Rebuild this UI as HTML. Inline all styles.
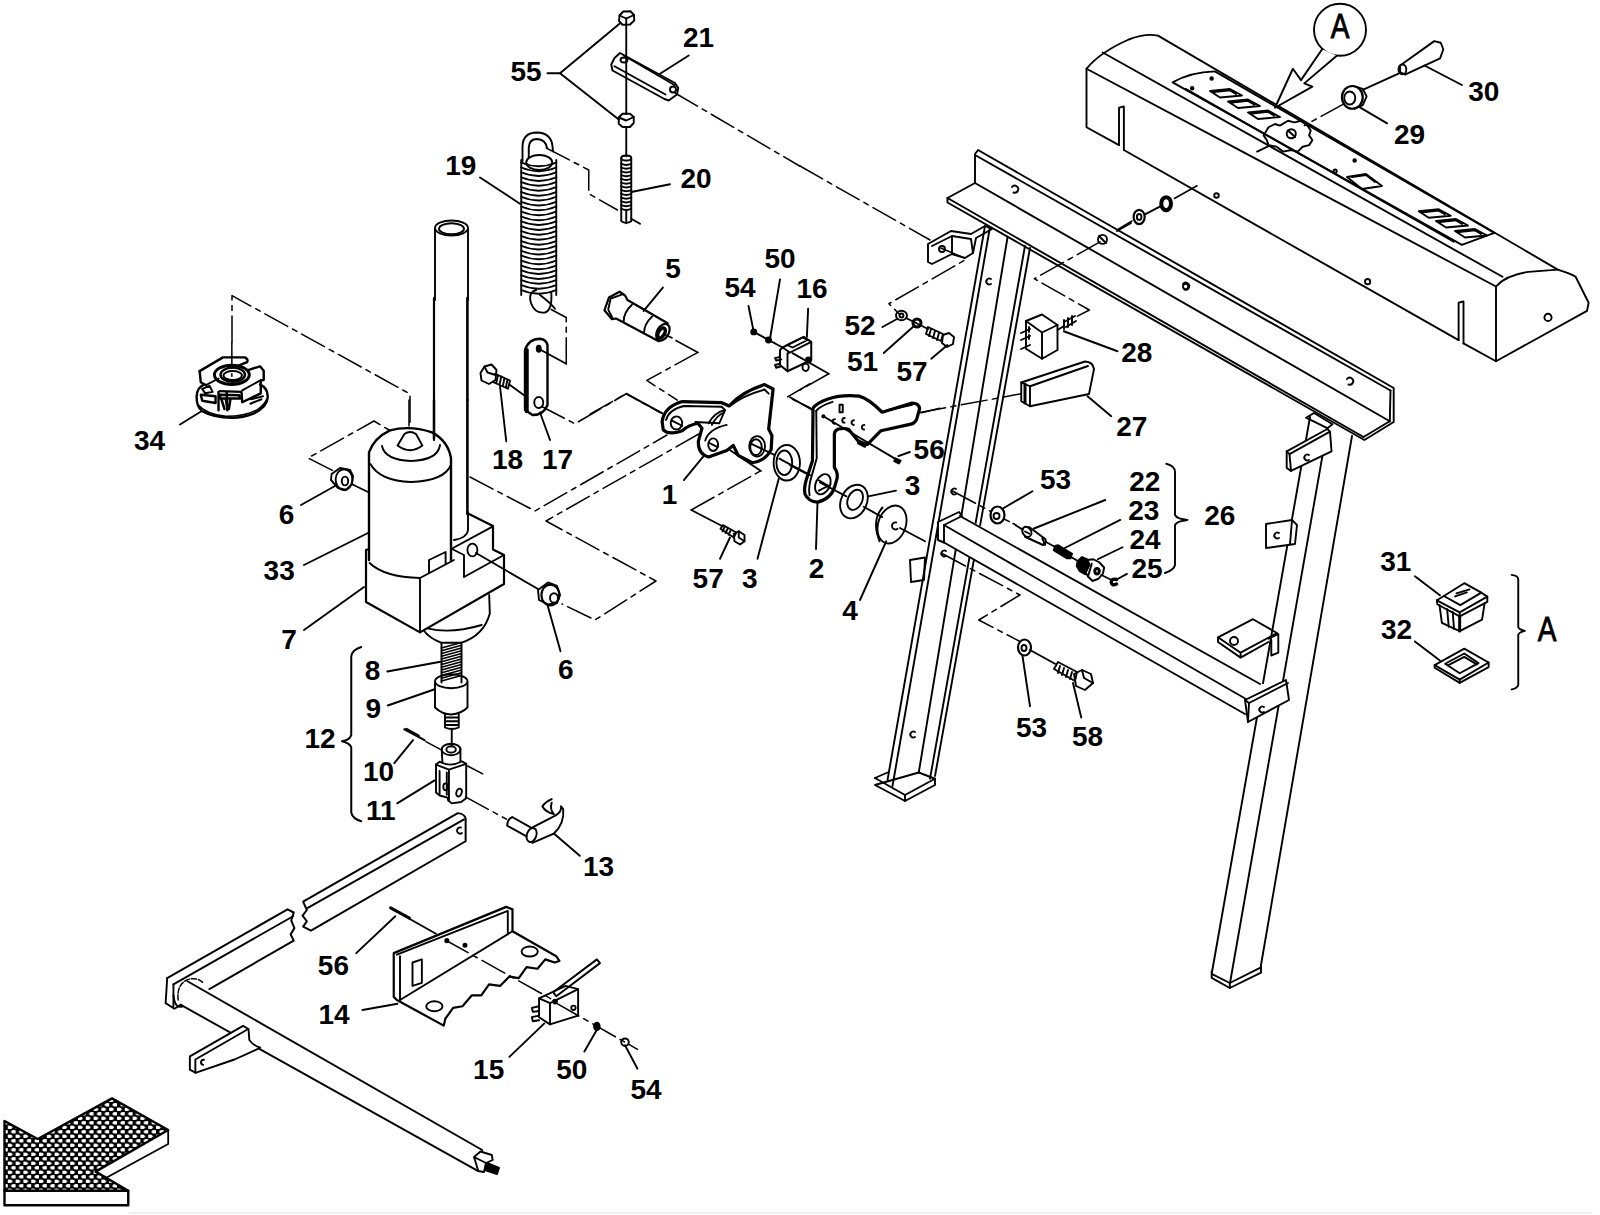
<!DOCTYPE html>
<html><head><meta charset="utf-8"><style>
html,body{margin:0;padding:0;background:#fff;width:1600px;height:1215px;overflow:hidden}
svg{display:block;position:absolute;left:0;top:0}
text{font-family:"Liberation Sans",sans-serif;font-weight:bold;font-size:28px;fill:#000}
.s [stroke-dasharray]{stroke-width:1.5px}
.s path,.s line,.s polyline,.s polygon,.s circle,.s ellipse,.s rect{vector-effect:non-scaling-stroke}
</style></head><body>
<svg width="1600" height="1215" viewBox="0 0 1600 1215">
<g class="s" fill="none" stroke="#000" stroke-width="1.9" stroke-linejoin="round" stroke-linecap="round">
<defs>
<pattern id="mesh" x="0" y="0" width="7.8" height="9" patternUnits="userSpaceOnUse">
<rect width="7.8" height="9" fill="#000"/>
<ellipse cx="1.95" cy="2.25" rx="2.6" ry="1.85" fill="#fff" stroke="none"/>
<ellipse cx="5.85" cy="6.75" rx="2.6" ry="1.85" fill="#fff" stroke="none"/>
</pattern>
</defs>
<!-- arrow -->
<path d="M4.5,1121 L37.7,1139 L112,1098.4 L168.2,1130 L95.6,1171.6 L128.25,1190.7 L4.5,1190.7 Z" fill="url(#mesh)" stroke-width="2.4"/>
<path d="M4.5,1190.7 L4.5,1205.3 L128.25,1205.3 L128.25,1190.7" stroke-width="2.4"/>
<path d="M168.2,1130 L168.2,1144 L106.3,1177.75" stroke-width="1.8"/>
<line x1="130" y1="1213" x2="1592" y2="1213" stroke="#f3dcf0" stroke-width="1.5" stroke-dasharray="2,2"/>
<!-- bottom assembly -->
<g transform="translate(150,800) scale(0.3125)">
<path d="M490,325 L985,42 Q1008,45 1010,60 L1010,132 L515,418 L490,405 L502,388 L488,370 L502,352 Z" stroke-width="2"/>
<line x1="505" y1="345" x2="1005" y2="62"/>
<path d="M995,88 a10,10 0 1 0 3,18"/>
<path d="M55,570 L440,350 L460,360 L452,385 L462,410 L450,430 L460,450 L190,605" stroke-width="2"/>
<line x1="75" y1="590" x2="458" y2="372"/>
<path d="M55,570 L50,650 L78,668 L100,655 M75,590 L75,660"/>
<path d="M90,640 Q85,590 120,575 Q150,565 170,585" stroke-dasharray="5,2"/><path d="M75,625 Q80,670 105,660"/>
<path d="M120,580 L1063,1120"/>
<path d="M97.6,655 L1049,1187"/>


<!-- 14 -->
<path d="M780,490 L1140,342 L1160,350 L1160,420 L1300,500 L1310,515 L1295,520 L1265,510 L1240,540 L1205,535 L1180,570 L1150,565 L1120,595 L1085,590 L1060,625 L1030,625 L1000,660 L970,665 L945,700 L940,722 L790,640 L780,630 Z" stroke-width="2.2"/>
<path d="M790,495 L1145,355 L1145,430 M800,640 L1160,420"/>
<line x1="800" y1="500" x2="800" y2="640"/>
<path d="M840,520 L870,510 L870,585 L840,595 Z"/>
<ellipse cx="910" cy="660" rx="26" ry="16"/><ellipse cx="1215" cy="485" rx="26" ry="16"/>
<line x1="680" y1="672" x2="792" y2="652"/>
<path d="M770,345 L830,378" stroke-width="3"/><line x1="830" y1="380" x2="915" y2="428"/>
<polyline points="945,448 1290,640" stroke-dasharray="26,5.5,5,5.5"/>
<circle cx="950" cy="450" r="5" fill="#000"/><circle cx="1008" cy="465" r="5" fill="#000"/>
<line x1="660" y1="490" x2="785" y2="372"/>
<!-- 15 -->
<path d="M1245,635 L1330,595 L1370,605 L1370,690 L1280,718 L1245,695 Z"/>
<path d="M1245,635 L1280,650 L1370,605 M1280,650 L1280,718"/>
<path d="M1290,615 L1430,510 L1440,522 L1300,628 Z"/>
<path d="M1245,660 L1222,665 L1225,678 L1245,675 M1245,690 L1222,695 L1225,708 L1245,705"/>
<circle cx="1296" cy="645" r="6" fill="#000"/><circle cx="1355" cy="665" r="7"/>
<line x1="1300" y1="650" x2="1560" y2="798" stroke-dasharray="26,5.5,5,5.5"/>
<ellipse cx="1430" cy="725" rx="9" ry="12" fill="#000"/><ellipse cx="1520" cy="775" rx="12" ry="12"/>
<line x1="1150" y1="822" x2="1262" y2="715"/><line x1="1390" y1="805" x2="1430" y2="735"/><line x1="1560" y1="860" x2="1520" y2="785"/>
</g>
<!-- shaft end -->
<path d="M474,1157 L480.5,1151.5 L491.8,1155 L492.7,1160 L486,1163 Z M474,1157 L478,1170 M486,1163 L484,1172 L478,1171"/>
<path d="M487,1163 L499,1168 L497,1174 L485,1170 Z" fill="#000"/>
<g transform="translate(150,900) scale(0.15637)">
<path d="M255,1000 L595,805 L630,825 L635,895 Q660,930 705,945 Q620,985 540,1020 L290,1105 L255,1085 Z" fill="#fff"/>
<path d="M290,1020 L620,830 M290,1020 L290,1105"/>
<path d="M345,1022 a16,16 0 1 0 -5,32"/>
</g>

<g transform="translate(1080,20) scale(0.325)">
<path d="M120,385 L20,330 L20,150 Q60,100 150,60 Q200,40 240,48 L1470,768 Q1510,780 1525,790 L1565,870 L1560,895 L1280,1050 L1180,995"/>
<line x1="135" y1="400" x2="1165" y2="985"/>
<path d="M120,385 L120,270 L135,266 L135,400"/><path d="M1165,985 L1165,870 L1180,866 L1180,995"/>
<line x1="20" y1="150" x2="1280" y2="820"/>
<line x1="70" y1="100" x2="1300" y2="790"/>
<path d="M1280,1050 L1280,820 Q1310,785 1380,775 L1470,768"/>
<path d="M285,192 Q340,160 415,158 L1275,655 L1175,692 Z"/>
<line x1="325" y1="212" x2="1150" y2="682"/>




<path d="M580,330 l20,-10 l15,5 l25,-15 l20,5 l20,-5 l20,15 l10,15 l-5,15 l10,15 l-10,15 l-20,5 l-15,15 l-20,-5 l-25,5 l-20,-15 l-25,-5 l-5,-15 l-10,-15 z"/>
<circle cx="650" cy="350" r="14"/><line x1="640" y1="340" x2="662" y2="360"/>
<line x1="545" y1="405" x2="580" y2="388"/>
<circle cx="420" cy="540" r="7"/><circle cx="325" cy="820" r="8"/><circle cx="885" cy="805" r="8"/><circle cx="1440" cy="915" r="11"/><circle cx="785" cy="465" r="5"/><circle cx="845" cy="432" r="4" fill="#000"/><circle cx="345" cy="210" r="4" fill="#000"/><circle cx="405" cy="180" r="4" fill="#000"/>
<!-- arrow A -->
<circle cx="800" cy="30" r="80"/>
<path d="M745,90 L680,185 L655,150 L600,270 L715,205 L690,195 L790,110" fill="#fff"/>
<!-- 29 30 -->
<path d="M985,140 L1090,65 L1110,70 L1118,90 L1108,118 L1000,168 L985,160 Z"/>
<ellipse cx="992" cy="152" rx="12" ry="15"/>
<line x1="1060" y1="140" x2="1175" y2="200"/>
<line x1="980" y1="165" x2="870" y2="215"/>
<ellipse cx="838" cy="238" rx="32" ry="35" stroke-width="2.2"/><ellipse cx="830" cy="240" rx="17" ry="20"/>
<path d="M848,205 L870,212 L882,235 L870,262 L845,272"/>
<line x1="860" y1="268" x2="945" y2="318"/>
<line x1="812" y1="258" x2="690" y2="325" stroke-dasharray="26,5.5,5,5.5"/>
<!-- washers bottom-left -->
<ellipse cx="182" cy="606" rx="17" ry="22" stroke-width="2.2"/><ellipse cx="182" cy="606" rx="7" ry="9"/>
<ellipse cx="265" cy="565" rx="15" ry="20" stroke-width="4"/>
<line x1="200" y1="598" x2="250" y2="572"/>
<polyline points="360,510 280,555" stroke-dasharray="26,5.5,5,5.5"/><polyline points="160,618 115,645" stroke-dasharray="26,5.5,5,5.5"/>
</g>
<!-- dashed hole -> 28 -->
<circle cx="1102.5" cy="239.4" r="4.5"/><line x1="1099" y1="236" x2="1106" y2="243"/>
<polyline points="1100,241.9 1034.4,278.75 1089.4,310 1073.75,318.1" stroke-dasharray="26,5.5,5,5.5"/>
<line x1="1131" y1="223" x2="1117" y2="231"/>
<path d="M1210,91 l20,-2 l12,6.5 l-22,2 z M1214,92 l16,-1.6 l6,3.5"/>
<path d="M1228,101.5 l20,-2 l12,6.5 l-22,2 z M1232,102.5 l16,-1.6 l6,3.5"/>
<path d="M1248,112.5 l20,-2 l12,6.5 l-22,2 z M1252,113.5 l16,-1.6 l6,3.5"/>
<path d="M1418.75,211.25 l20,-2 l12,6.5 l-22,2 z M1422.75,212.25 l16,-1.6 l6,3.5"/>
<path d="M1436,221 l20,-2 l12,6.5 l-22,2 z M1440,222 l16,-1.6 l6,3.5"/>
<path d="M1455,231 l20,-2 l12,6.5 l-22,2 z M1459,232 l16,-1.6 l6,3.5"/>
<path d="M1347,177 l19,-3 l16,12 l-20,3 z M1352,177 l14,-2 l9,7"/>

<polyline points="470,477 535,511 667,435" stroke-dasharray="26,5.5,5,5.5"/>
<polyline points="698.7,434 546,521 656,581 595,620 562,604" stroke-dasharray="26,5.5,5,5.5"/>
<line x1="434" y1="298" x2="434" y2="440" stroke-width="2.2"/>
<line x1="467.4" y1="298" x2="467.4" y2="400" stroke-width="2.6"/>
<line x1="800" y1="166" x2="930" y2="240" stroke-dasharray="26,5.5,5,5.5"/>
<line x1="817.5" y1="502.5" x2="816" y2="549"/>

<!-- angle iron -->
<g>
<path d="M975,154 L978,150 L1393.7,388 L1393.7,422 L1364.4,440 L947.5,202.5 L947.5,198 L975,183 Z"/>
<line x1="975" y1="155" x2="1390.5" y2="390.5"/>
<line x1="975" y1="183" x2="1389.8" y2="421.2"/>
<line x1="1390.5" y1="390.5" x2="1389.8" y2="421.2"/>
<line x1="947.5" y1="198" x2="1363.5" y2="437"/>
<line x1="1389.8" y1="421.2" x2="1363.5" y2="437"/>
<path d="M1012,187 a3.5,3.5 0 1 1 1.5,5.5"/><path d="M1183,284 a3.5,3.5 0 1 1 1.5,5.5"/><path d="M1347,379 a3.5,3.5 0 1 1 1.5,5.5"/>
</g>
<!-- left front leg -->
<g>
<line x1="985" y1="226" x2="887.5" y2="780"/><line x1="990" y1="227" x2="892.5" y2="786"/>
<line x1="1007.5" y1="237.5" x2="918.75" y2="772.5"/>
<line x1="1025" y1="246" x2="930" y2="778.75"/><line x1="1030" y1="248" x2="935" y2="776"/>
<path d="M875,778 L887.5,772.5 M918.75,772.5 L935,778.75 L935,785 L905,801 L875,785 Z"/>
<polyline points="875,778 905,795 935,778.75"/><line x1="905" y1="795" x2="905" y2="801"/>
<path d="M956,489 a3,3 0 1 0 0,5"/><path d="M946,551 a3,3 0 1 0 0,5"/><path d="M991,279 a3,3 0 1 0 0,5"/><path d="M915,732 a3,3 0 1 0 0,5"/>
<!-- top bracket -->
<path d="M928,244 L951,231 L971,234 L985,226 L992,229 L976,238 L973,253 L965,258 L952,254 L932,264 L928,262 Z"/>
<polyline points="932,246 952,236 952,253"/><polyline points="952,236 971,239 973,253"/>
<circle cx="942" cy="249" r="3"/>
<!-- small tab -->
<path d="M910,560 L925,557.5 L924,580 L911,582 Z"/>
</g>
<!-- right rear leg -->
<g>
<line x1="1310" y1="417" x2="1212" y2="972"/>
<line x1="1327.3" y1="428.2" x2="1230" y2="983"/>
<line x1="1352" y1="436" x2="1261" y2="965"/>
<path d="M1211.7,971.3 L1211.7,977.8 L1229.8,988 L1261,972.6 L1261,964.8"/>
<polyline points="1211.7,973.9 1229.8,983 1261,967.4"/><line x1="1229.8" y1="983" x2="1229.8" y2="988"/>
<path d="M1306,417.7 L1314,413 L1332.5,424.3 L1327.3,428.2 Z"/>
<path d="M1286.7,451.3 L1327.3,429 L1330,431.7 L1331.5,451.3 L1291,470.9 L1286.7,468 Z" fill="#fff"/><polyline points="1286.7,451.3 1289.5,454.1 1330,431.7"/><line x1="1289.5" y1="454.1" x2="1291" y2="470.9"/>
<path d="M1309,455 a3,3 0 1 0 0,5"/>
<path d="M1266,524 L1292,520 L1297,525 L1295,544 L1266,548 Z" fill="#fff"/><line x1="1292" y1="520" x2="1290" y2="544"/>
<path d="M1279,533 a3,3 0 1 0 0,5"/>
<path d="M1218,637.3 L1253,619.2 L1277,633 L1240.6,652.7 Z M1218,637.3 L1218,642 L1240.6,657.6 L1268.5,642 M1240.6,652.7 L1240.6,657.6 M1268.5,638.7 L1278.3,634 L1278.3,652.7 L1271.3,655.5 L1271.3,640"/>
<circle cx="1234" cy="641" r="4"/>

<path d="M1264,707 a3,3 0 1 0 0,5"/>
</g>
<!-- crossbar -->
<g>
<path d="M938,522 L959.5,512 L962,516 L1262,684 L1289,683 L1289,700 L1248,722 L1245,712 L944,542.5 L938,540 Z" fill="#fff" stroke="none"/>
<line x1="960" y1="516" x2="1260" y2="684"/>
<line x1="944" y1="525" x2="1246" y2="699"/>
<line x1="944" y1="542.5" x2="1245" y2="714"/>
<path d="M938,522 L959,512 L962,516 L944,525 L944,542.5 L938,540 Z"/>
</g>

<path d="M1245,700 L1286,680 L1289,700 L1248,722 Z" fill="#fff"/><line x1="1249" y1="703" x2="1248" y2="722"/><line x1="1245" y1="700" x2="1249" y2="703"/><line x1="1249" y1="703" x2="1288" y2="683"/><path d="M1264,707 a3,3 0 1 0 0,5"/>

<g transform="translate(590,280) scale(0.16467)">

<polyline points="655,440 345,610 530,730" stroke-dasharray="26,5.5,5,5.5"/>
<polyline points="0,815 220,690" stroke-dasharray="26,5.5,5,5.5"/><line x1="220" y1="690" x2="440" y2="810"/>
<path d="M438,860 Q450,770 560,738 L800,745 L845,765 Q920,680 1060,635 L1112,662 L1085,905 L1105,945 L1100,1030 Q1065,1100 985,1110 L900,1065 L870,1005 L830,1035 L720,1075 Q655,1055 658,980 L680,900 L655,870 Q600,880 560,915 Q480,945 445,910 Z" stroke-width="3.2"/>
<path d="M462,850 Q480,785 570,765 L800,770 L820,790 L785,870 L640,862 M700,975 Q720,905 830,880 M850,765 Q930,700 1060,665 L1085,690"/>
<path d="M720,870 Q760,800 820,790 M740,880 Q770,820 815,805"/>
<ellipse cx="525" cy="868" rx="35" ry="40"/><line x1="500" y1="855" x2="560" y2="885"/>
<ellipse cx="748" cy="1000" rx="30" ry="38"/><line x1="725" y1="990" x2="775" y2="1015"/>
<ellipse cx="1015" cy="1010" rx="48" ry="62"/><ellipse cx="1008" cy="1015" rx="35" ry="48"/>
<line x1="980" y1="995" x2="1120" y2="1062"/>
<line x1="570" y1="1215" x2="690" y2="1070"/>
<ellipse cx="1195" cy="1110" rx="80" ry="108"/><ellipse cx="1180" cy="1110" rx="48" ry="75"/>
<line x1="1150" y1="1085" x2="1336" y2="1185"/>


<polyline points="1336,630 1200,710 1336,775" stroke-dasharray="26,5.5,5,5.5"/>

</g>
<g transform="translate(590,280) scale(0.06875)">
<path d="M210,440 L275,255 L430,170 L510,225 L545,290 L1130,630 M210,440 L320,570 L380,560 L1000,890" stroke-width="2.2"/>
<path d="M300,270 L470,210 M300,270 L265,430 L330,560"/>
<path d="M610,360 Q490,470 490,600 M905,530 Q790,640 785,765"/>
<ellipse cx="1060" cy="760" rx="85" ry="130" transform="rotate(30 1060 760)" stroke-width="2.2"/>
<ellipse cx="1040" cy="770" rx="45" ry="80" transform="rotate(30 1040 770)" stroke-width="3.5"/>
<line x1="1060" y1="110" x2="780" y2="450"/>
<line x1="1100" y1="800" x2="1190" y2="840"/>
<polyline points="1250,880 1570,1055" stroke-dasharray="26,5.5,5,5.5"/>
</g>
<line x1="729.4" y1="449.8" x2="760.9" y2="471"/>

<!-- 18 / 17 / spring hook -->
<g transform="translate(400,300) scale(0.25)">
<polygon points="322,292 338,266 366,258 386,280 382,320 356,336 326,322"/>
<polyline points="338,266 350,290 382,300 M350,290 342,330"/>
<path d="M380,295 L440,322 L432,355 L372,328 M392,300 L385,333 M405,306 L398,339 M418,312 L411,345 M430,318 L423,351"/>
<line x1="440" y1="340" x2="495" y2="380"/>
<line x1="400" y1="345" x2="425" y2="565"/>
<path d="M500,440 L500,200 Q515,155 560,155 Q585,158 590,180 L590,420 Q575,460 530,460 Z" stroke-width="2.4"/>
<line x1="507" y1="200" x2="507" y2="445" stroke-width="4"/>
<ellipse cx="555" cy="195" rx="8" ry="12" fill="#000"/><ellipse cx="555" cy="410" rx="18" ry="22"/>
<line x1="560" y1="450" x2="600" y2="560"/>
<line x1="560" y1="198" x2="665" y2="255"/>
<polyline points="665,255 665,70 605,38" stroke-dasharray="26,5.5,5,5.5"/>
<path d="M545,-40 Q510,-30 525,15 Q540,55 580,50 Q610,40 605,-30"/><path d="M560,-20 Q600,10 620,35"/>
<polyline points="565,425 700,495 905,375 1040,450" stroke-dasharray="26,5.5,5,5.5"/>
<!-- bolt 57 lower -->
<path d="M1282,915 L1292,900 L1345,930 L1335,950 Z M1300,905 L1290,925 M1312,912 L1302,932 M1324,919 L1314,939"/>
<polygon points="1335,935 1355,925 1378,940 1378,965 1360,978 1338,965"/>
<polyline points="1355,925 1355,950 1378,965 M1355,950 1338,965"/>
<line x1="1280" y1="1035" x2="1320" y2="950"/>
<line x1="1165" y1="840" x2="1290" y2="905"/>
<polyline points="1165,840 1440,685" stroke-dasharray="26,5.5,5,5.5"/>
<line x1="1430" y1="1035" x2="1515" y2="715"/>
</g>
<!-- 34 -->
<g transform="translate(180,340) scale(0.074074)">
<path d="M225,760 Q230,640 330,600 M1080,600 Q1185,650 1185,770 Q1180,900 1000,990 Q850,1050 700,1050 Q450,1045 300,960 Q220,900 225,760" stroke-width="2.4"/>
<path d="M240,870 Q350,1000 620,1030 Q900,1030 1060,930 Q1150,860 1170,800" stroke-width="1.6"/>
<path d="M265,420 L580,235 L875,235 Q930,265 905,300 L790,345" stroke-width="2.4"/>
<path d="M265,420 L280,570 L350,610 M910,410 L1080,355 L1130,415 L1130,540 L1090,545 L1090,720 L840,840 L830,700 L540,690" stroke-width="2.4"/>
<path d="M840,680 L1085,545 M350,610 L520,520"/>
<ellipse cx="700" cy="470" rx="235" ry="130" stroke-width="3"/>
<ellipse cx="712" cy="468" rx="165" ry="95" stroke-width="2.4"/>
<ellipse cx="712" cy="480" rx="125" ry="60" stroke-width="2"/>
<path d="M520,700 L520,950 M630,700 L640,950 M280,740 L480,760 L480,850 L300,820 Z" stroke-width="2.4"/>
<path d="M540,740 L800,745 L810,790 L540,790 Z M560,800 L600,930 M620,800 L640,930 M680,800 L660,930" stroke-width="2.6"/>
<path d="M300,660 L400,620 L440,700 L340,720 Z M960,800 L1120,760 M950,860 L1100,800" stroke-width="2"/>
<line x1="700" y1="30" x2="700" y2="490" stroke-dasharray="26,5.5,5,5.5"/>
<line x1="0" y1="1140" x2="300" y2="955"/>
</g>
<polyline points="232,342 232,295.6 410,394 410,426" stroke-dasharray="26,5.5,5,5.5"/>
<!-- switch 16 -->
<g transform="translate(700,240) scale(0.125)">
<circle cx="430" cy="735" r="20" fill="#000"/><circle cx="548" cy="800" r="20" fill="#000"/>
<line x1="388" y1="528" x2="430" y2="735"/><line x1="640" y1="315" x2="560" y2="790"/><line x1="865" y1="550" x2="855" y2="775"/>
<line x1="430" y1="735" x2="660" y2="860"/>
<path d="M660,860 L830,775 L890,815 L890,960 L700,1050 L640,1000 L640,880 Z" stroke-width="2"/>
<path d="M660,860 L720,900 L890,815 M720,900 L700,905 L700,1050"/>
<path d="M695,840 L820,780 L860,800 L740,860 Z"/>
<path d="M640,935 L600,945 L610,965 L650,955 M640,990 L600,1000 L610,1022 L650,1010"/>
<ellipse cx="845" cy="1018" rx="25" ry="30"/><circle cx="868" cy="960" r="20" fill="#000"/>
<line x1="740" y1="905" x2="1030" y2="1070"/>
<polyline points="1030,1070 800,1200" stroke-dasharray="26,5.5,5,5.5"/>
</g>
<!-- brace 12 -->
<g transform="translate(0,600) scale(0.25)">
<path d="M1445,188 Q1410,198 1405,225 L1405,540 Q1400,560 1368,565 Q1400,572 1405,590 L1405,850 Q1410,875 1445,885" stroke-width="2"/>
</g>
<!-- part 2, washers 3 & 4, pin 56 -->
<g transform="translate(790,380) scale(0.1152)">
<path d="M200,245 Q230,200 330,165 Q450,125 600,140 Q680,160 800,280 L1060,200 Q1120,200 1125,250 L1100,340 Q1080,380 1040,385 L790,440 L670,560 L600,540 L510,430 Q480,415 420,425 Q385,440 385,470 L385,760 Q415,800 410,850 L390,920 Q360,1030 240,1060 Q160,1055 130,990 Q120,940 140,870 L195,700 Z" stroke-width="3.2"/>
<path d="M225,270 Q260,225 370,190 M228,275 L232,680 L175,880 Q160,950 170,1000 M820,270 L1060,215"/>
<rect x="430" y="215" width="28" height="65"/>
<circle cx="290" cy="315" r="10" fill="#000"/>
<path d="M390,340 a14,14 0 1 0 -2,40 M475,330 a14,14 0 1 0 -2,40 M555,350 a14,14 0 1 0 -2,40 M645,390 a14,14 0 1 0 -2,40"/>
<ellipse cx="285" cy="905" rx="62" ry="92" transform="rotate(25 285 905)"/><path d="M250,960 L330,920 M250,870 L335,920"/>
<line x1="290" y1="315" x2="940" y2="700"/>
<path d="M600,525 L660,555 L650,580 L590,550 Z" fill="#000"/><path d="M915,680 L960,700 L945,725 L905,705 Z" fill="#000"/>
<line x1="940" y1="660" x2="1040" y2="625"/>
<line x1="0" y1="150" x2="195" y2="260"/>
<line x1="0" y1="740" x2="140" y2="810"/>
<line x1="260" y1="890" x2="490" y2="1010"/>
<ellipse cx="555" cy="1055" rx="112" ry="152" transform="rotate(25 555 1055)"/><ellipse cx="565" cy="1040" rx="62" ry="92" transform="rotate(25 565 1040)"/>
<line x1="680" y1="1010" x2="920" y2="960"/>
<line x1="640" y1="1100" x2="800" y2="1190"/>
<line x1="1140" y1="285" x2="1300" y2="245" stroke-dasharray="26,5.5,5,5.5"/>
</g>
<g transform="translate(800,300) scale(0.25)">
<ellipse cx="368" cy="898" rx="55" ry="78" transform="rotate(20 368 898)"/><path d="M330,830 Q285,880 318,965"/><path d="M385,890 a14,14 0 1 0 5,25"/>
<line x1="345" y1="965" x2="240" y2="1200"/>
<line x1="400" y1="912" x2="500" y2="965"/>
</g>

<g transform="translate(280,400) scale(0.2)">
<!-- tube continuation -->
<line x1="770" y1="0" x2="770" y2="190" stroke-width="2.4"/>
<line x1="937" y1="0" x2="937" y2="570" stroke-width="2.6"/>
<path d="M940,560 L940,650 Q935,690 870,700"/>
<!-- motor -->
<path d="M445,800 L445,262 Q470,190 550,152 Q650,125 760,162 Q840,205 855,290 L855,800" stroke-width="2.4"/>
<path d="M452,320 Q500,405 655,410 Q820,405 855,325"/>
<path d="M510,230 Q525,300 655,305 Q790,300 800,225"/>
<path d="M588,228 L622,170 Q650,150 680,170 L712,228 Q650,275 588,228"/>
<line x1="645" y1="0" x2="645" y2="140" stroke-dasharray="26,5.5,5,5.5"/>
<path d="M448,815 Q520,885 700,890 L870,800"/>
<!-- block -->
<path d="M430,750 L430,1010 L700,1162 L1120,920 L1120,775 L1065,748 L1065,630 L935,565" stroke-width="2.2"/>
<line x1="430" y1="750" x2="445" y2="745"/>
<line x1="700" y1="890" x2="700" y2="1162"/>
<path d="M745,865 L745,800 L828,760 L828,820"/>
<path d="M860,745 L920,775 L920,885 L1120,775"/>
<path d="M865,740 L1065,632"/>
<ellipse cx="962" cy="750" rx="25" ry="32"/>

<!-- washers 6 -->
<path d="M258,370 L300,340 L350,350 L365,380 L360,420 L330,450 L290,440 L255,400 Z"/>
<ellipse cx="320" cy="398" rx="42" ry="52"/><ellipse cx="325" cy="405" rx="16" ry="22"/>
<line x1="358" y1="420" x2="440" y2="460"/>
<path d="M1290,950 L1340,912 L1385,930 L1400,975 L1385,1015 L1340,1022 L1295,1000 Z"/>
<ellipse cx="1352" cy="975" rx="45" ry="52" stroke-width="2.2"/><ellipse cx="1370" cy="990" rx="20" ry="24"/>
<line x1="980" y1="765" x2="1290" y2="945"/>

<!-- leaders -->
<line x1="105" y1="525" x2="275" y2="430"/><line x1="120" y1="825" x2="440" y2="665"/><line x1="120" y1="1150" x2="420" y2="935"/>
<!-- dashed -->
<polyline points="262,352 140,290 470,105 545,150" stroke-dasharray="26,5.5,5,5.5"/>


</g>

<!-- 31 / 32 / brace A -->
<g transform="translate(1380,540) scale(0.13167)">
<polygon points="485,425 640,328 770,400 610,495"/>
<line x1="580" y1="405" x2="680" y2="375"/><line x1="570" y1="428" x2="660" y2="398"/>
<path d="M485,425 L432,458 L435,488 L605,580 L815,470 L815,430 L770,400"/>
<polyline points="432,458 605,550 815,430"/><line x1="605" y1="550" x2="605" y2="580"/>
<path d="M452,495 L470,630 L605,692 L775,605 L795,478"/><line x1="605" y1="580" x2="605" y2="692" stroke-width="3"/>
<line x1="510" y1="525" x2="522" y2="660"/><line x1="552" y1="545" x2="562" y2="675"/>
<polygon points="415,950 640,825 825,930 825,965 605,1085 415,970"/>
<polyline points="415,950 605,1060 825,930"/><line x1="605" y1="1060" x2="605" y2="1085"/>
<polygon points="495,940 640,862 748,935 605,1012"/>
<polyline points="520,950 640,888 735,945"/>
<line x1="265" y1="275" x2="455" y2="420"/><line x1="265" y1="770" x2="455" y2="915"/>
<path d="M1000,265 Q1050,270 1050,300 L1050,660 Q1055,680 1100,690 Q1055,700 1050,720 L1050,1100 Q1045,1125 1000,1135"/>
</g>
<!-- 27 / 28 -->
<path d="M1021.25,382.5 L1085,361.5 Q1093,362 1094,369 L1089,394 L1030,406.25 L1021.25,401.25 Z"/>
<polyline points="1021.25,382.5 1030,386.25 1030,406.25"/><line x1="1030" y1="386.25" x2="1088" y2="366"/>
<line x1="1025" y1="384" x2="1025" y2="403" stroke-width="3"/>
<line x1="1087.5" y1="396.25" x2="1111.25" y2="416.25"/>
<line x1="920" y1="412.5" x2="1021.25" y2="393.75" stroke-dasharray="26,5.5,5,5.5"/>
<path d="M1026,321 L1042,314.5 L1057.5,325 L1057.5,350 L1042,358.75 L1026,348.75 Z"/>
<polyline points="1026,321 1042,332.5 1057.5,325"/><line x1="1042" y1="332.5" x2="1042" y2="358.75"/>
<path d="M1021,333 L1030,329 M1021,340 L1030,336 M1021,349 L1030,345 M1029,327 L1029,332 M1029,335 L1029,339"/>
<path d="M1057.5,330 L1064,326 M1064,322 L1075,316 M1066,327 L1076,321"/>
<path d="M1064,320 L1064,329 M1068,318 L1068,327 M1072,316 L1072,325"/>
<line x1="1063.75" y1="331.25" x2="1117.5" y2="351.25"/>
<!-- 52 51 57 -->
<ellipse cx="901.5" cy="315.5" rx="5.5" ry="4.8"/><ellipse cx="901.5" cy="315.5" rx="2" ry="2"/>
<ellipse cx="917" cy="323" rx="4" ry="4" stroke-width="3"/>
<path d="M928,327 L943,334 L941,341 L926,334 Z"/><path d="M931,329 L929,336 M935,331 L933,338 M939,333 L937,340"/>
<polygon points="943,335 949,333 954,337 953,344 947,347 942,343"/>
<line x1="882.5" y1="327" x2="897.5" y2="318.75"/><line x1="883.75" y1="353" x2="914" y2="326"/><line x1="931.25" y1="358.75" x2="947.5" y2="345"/>
<polyline points="940.7,248 966.7,259 888.9,303.7 900,314.8" stroke-dasharray="26,5.5,5,5.5"/>
<line x1="906" y1="318" x2="928" y2="329"/>
<!-- 53 22 23 24 25 -->
<ellipse cx="997.5" cy="515" rx="7" ry="8.5" stroke-width="2.2"/><ellipse cx="996.5" cy="516" rx="3" ry="3"/>
<line x1="1032.5" y1="491.25" x2="1002.5" y2="508.75"/>
<polyline points="952.5,491 990,511" stroke-dasharray="26,5.5,5,5.5"/><polyline points="1004,519 1016,525" stroke-dasharray="6,4"/>
<g transform="translate(1010,500) scale(0.075)">
<path d="M255,360 L470,520 L480,560 L440,600 L200,490" stroke-width="2"/>
<ellipse cx="225" cy="425" rx="55" ry="72" transform="rotate(-35 225 425)" stroke-width="2"/>
<line x1="200" y1="420" x2="260" y2="450"/>
<line x1="430" y1="510" x2="470" y2="600"/>
<line x1="80" y1="340" x2="170" y2="395"/><line x1="480" y1="560" x2="590" y2="620"/>
<path d="M600,610 L640,600 L830,715 L810,780 L760,780 L580,670 Z" fill="#000" stroke-width="1.5"/>
<line x1="830" y1="770" x2="900" y2="810"/>
<path d="M900,820 L960,760 L1030,790 L1060,860 L1000,990 L930,950 L890,880 Z" fill="#000"/>
<path d="M1030,800 L1110,790 L1190,830 L1255,900 L1240,980 L1180,1050 L1100,1080 L1040,1020 L1000,950"/>
<line x1="1090" y1="850" x2="1040" y2="1020"/>
<ellipse cx="1160" cy="950" rx="30" ry="38" stroke-width="3"/>
<line x1="1220" y1="1000" x2="1340" y2="1060"/>
<path d="M1420,1060 Q1350,1040 1350,1100 Q1360,1150 1420,1120" stroke-width="3.5"/>
<line x1="320" y1="380" x2="1270" y2="0"/><line x1="730" y1="640" x2="1470" y2="265"/><line x1="1170" y1="790" x2="1500" y2="630"/><line x1="1440" y1="1050" x2="1560" y2="985"/>
</g>
<path d="M1166.25,463.75 Q1175,466 1175,472 L1175,515 Q1177,519 1187.5,520 Q1177,521 1175,525 L1175,565 Q1174,570 1165,573"/>
<!-- 53 / 58 lower -->
<ellipse cx="1024.5" cy="647.5" rx="6.5" ry="8" stroke-width="2.2"/><ellipse cx="1024" cy="648" rx="2.5" ry="3"/>
<polyline points="942.5,553.75 1020,595 978.75,620 1019,641" stroke-dasharray="26,5.5,5,5.5"/>
<line x1="1030" y1="650" x2="1055" y2="663.75"/>
<path d="M1054,669 L1058,662 L1077,672 L1075,681 Z"/><path d="M1060,666 L1058,673 M1064,668 L1062,675 M1068,670 L1066,677 M1072,672 L1070,679"/>
<polygon points="1074,674 1082,670 1091,674 1093,683 1085,690 1076,686"/><polyline points="1082,670 1084,678 1093,683 M1084,678 1085,690"/>
<line x1="1030" y1="706.25" x2="1022.5" y2="656"/><line x1="1081.25" y1="717.5" x2="1073" y2="683"/>

<g transform="translate(400,0) scale(0.25)">
<polygon points="878,62 893,46 922,45 936,60 937,82 920,98 890,99 876,84"/>
<polyline points="878,62 905,74 936,60"/><line x1="905" y1="74" x2="905" y2="98"/>
<line x1="905" y1="100" x2="905" y2="455"/><line x1="905" y1="510" x2="905" y2="625"/>
<polygon points="880,212 1100,332 1113,352 1108,378 1075,402 1058,396 850,282 845,258 858,232"/>
<line x1="858" y1="265" x2="1062" y2="378"/><line x1="895" y1="222" x2="1098" y2="340"/>
<circle cx="1092" cy="358" r="12"/><ellipse cx="896" cy="240" rx="14" ry="10"/>
<polyline points="590,293 640,293 878,95"/><line x1="640" y1="293" x2="875" y2="478"/>
<line x1="1155" y1="222" x2="1040" y2="295"/>
<polygon points="875,470 890,455 920,455 935,468 935,492 920,508 890,508 875,495"/>
<polyline points="875,470 905,482 935,468"/>
<path d="M885,632 L885,885 Q905,898 925,885 L925,632"/><ellipse cx="905" cy="632" rx="20" ry="10"/>
<path d="M885,655 Q905,665 925,655 M885,670 Q905,680 925,670 M885,685 Q905,695 925,685 M885,700 Q905,710 925,700 M885,715 Q905,725 925,715 M885,730 Q905,740 925,730 M885,745 Q905,755 925,745 M885,760 Q905,770 925,760 M885,775 Q905,785 925,775 M885,790 Q905,800 925,790 M885,805 Q905,815 925,805 M885,820 Q905,830 925,820 M885,835 Q905,845 925,835"/>
<line x1="905" y1="845" x2="905" y2="893"/>
<line x1="1080" y1="737" x2="925" y2="768"/>
<line x1="1100" y1="372" x2="1600" y2="665" stroke-dasharray="26,5.5,5,5.5"/>
<path d="M490,645 L490,585 Q492,530 548,530 Q605,532 610,585 L612,605"/>
<path d="M515,630 L515,590 Q517,556 548,556 Q583,558 588,592"/>
<ellipse cx="557" cy="650" rx="52" ry="30"/>
<line x1="485" y1="640" x2="485" y2="1180"/><line x1="625" y1="640" x2="625" y2="1180"/>
<path id="coil" d="M485,650 Q555,680 625,650 M485,670 Q555,700 625,670 M485,689 Q555,719 625,689 M485,709 Q555,739 625,709 M485,728 Q555,758 625,728 M485,748 Q555,778 625,748 M485,768 Q555,798 625,768 M485,787 Q555,817 625,787 M485,807 Q555,837 625,807 M485,826 Q555,856 625,826 M485,846 Q555,876 625,846 M485,866 Q555,896 625,866 M485,885 Q555,915 625,885 M485,905 Q555,935 625,905 M485,924 Q555,954 625,924 M485,944 Q555,974 625,944 M485,964 Q555,994 625,964 M485,983 Q555,1013 625,983 M485,1003 Q555,1033 625,1003 M485,1022 Q555,1052 625,1022 M485,1042 Q555,1072 625,1042 M485,1062 Q555,1092 625,1062 M485,1081 Q555,1111 625,1081 M485,1101 Q555,1131 625,1101 M485,1120 Q555,1150 625,1120 M485,1140 Q555,1170 625,1140 M485,1160 Q555,1190 625,1160"/>
<line x1="320" y1="710" x2="480" y2="815"/>
<polyline points="585,592 755,680 755,775 870,840" stroke-dasharray="26,5.5,5,5.5"/>
<line x1="925" y1="875" x2="960" y2="895"/>
<line x1="140" y1="915" x2="140" y2="1200"/><line x1="272" y1="915" x2="272" y2="1200"/>
<ellipse cx="206" cy="912" rx="66" ry="30"/><ellipse cx="206" cy="915" rx="50" ry="22"/>
</g>

<g transform="translate(400,600) scale(0.25)">

<path d="M166,171 L166,330 M246,171 L246,330"/>
<path d="M166,192 L246,170 M166,203 L246,181 M166,214 L246,192 M166,225 L246,203 M166,236 L246,214 M166,247 L246,225 M166,258 L246,236 M166,269 L246,247 M166,280 L246,258 M166,291 L246,269 M166,302 L246,280 M166,313 L246,291 M166,324 L246,302" stroke-width="1.5"/>
<path d="M140,330 L140,430 Q170,458 205,458 Q245,455 270,430 L270,330"/><ellipse cx="205" cy="325" rx="65" ry="28"/>
<path d="M180,455 L180,510 Q207,522 235,510 L235,455 M180,470 L235,470 M180,485 L235,485 M180,500 L235,500"/>
<line x1="207" y1="515" x2="207" y2="585"/>

<line x1="590" y1="20" x2="642" y2="205"/>

</g>
<path d="M489.2,595 L489.8,613.4 Q484,635.3 461,642.8 L441.4,642.8 Q428.7,637.6 424,630.7"/>
<path d="M427.6,628.4 Q450.6,634.2 481.7,625"/>
<g transform="translate(390,720) scale(0.14375)">
<path d="M360,210 L365,300 M490,200 L490,290"/>
<ellipse cx="425" cy="205" rx="65" ry="40"/><ellipse cx="425" cy="205" rx="33" ry="22"/>
<path d="M320,310 L345,290 L362,298 Q425,325 490,292 L500,288 L530,305 L530,545 L495,570 L430,580 L405,560 L400,540 L345,525 L320,505 Z" fill="#fff"/>
<path d="M410,345 L530,305 M410,345 L410,560 M320,310 L410,345 M345,355 L345,515 M395,365 L395,520"/>
<ellipse cx="385" cy="465" rx="14" ry="24"/><ellipse cx="480" cy="505" rx="18" ry="28" transform="rotate(20 480 505)"/>
<path d="M100,65 L240,140 M115,62 L200,110" stroke-width="2.2"/>
<line x1="30" y1="300" x2="160" y2="140"/>
<polyline points="250,150 360,210" stroke-dasharray="26,5.5,5,5.5"/><polyline points="540,320 645,375" stroke-dasharray="26,5.5,5,5.5"/>
<line x1="50" y1="580" x2="310" y2="420"/>
<polyline points="525,535 810,690" stroke-dasharray="26,5.5,5,5.5"/>
<path d="M850,675 L975,745 M815,735 L950,810 M850,675 Q815,690 815,735"/>
<ellipse cx="985" cy="800" rx="33" ry="50" transform="rotate(20 985 800)"/>
<path d="M985,750 L1150,665 Q1195,640 1190,600 L1205,620 Q1215,720 1140,790 L990,855"/>
<path d="M1140,655 Q1080,640 1060,600 Q1080,570 1125,550 M1140,655 Q1110,620 1125,575"/>
<line x1="1140" y1="790" x2="1320" y2="945"/>
</g>
<line x1="387.25" y1="671.5" x2="440.5" y2="661.75"/><line x1="387.75" y1="705.5" x2="434" y2="689.5"/>

</g>
<g class="lab">
<text transform="translate(1340.2,38) scale(0.8,1)" text-anchor="middle" style="font-weight:normal;font-size:35px;stroke:#000;stroke-width:0.9px">A</text>
<text transform="translate(1547,640.7) scale(0.8,1)" text-anchor="middle" style="font-weight:normal;font-size:35px;stroke:#000;stroke-width:0.9px">A</text>
<text x="698.5" y="47.0" text-anchor="middle">21</text>
<text x="526.0" y="81.0" text-anchor="middle">55</text>
<text x="460.8" y="175.0" text-anchor="middle">19</text>
<text x="696.0" y="187.5" text-anchor="middle">20</text>
<text x="673.0" y="277.5" text-anchor="middle">5</text>
<text x="780.0" y="267.5" text-anchor="middle">50</text>
<text x="740.0" y="297.0" text-anchor="middle">54</text>
<text x="149.5" y="449.5" text-anchor="middle">34</text>
<text x="286.5" y="524.0" text-anchor="middle">6</text>
<text x="279.2" y="580.0" text-anchor="middle">33</text>
<text x="507.5" y="469.0" text-anchor="middle">18</text>
<text x="557.5" y="469.0" text-anchor="middle">17</text>
<text x="669.5" y="504.0" text-anchor="middle">1</text>
<text x="708.2" y="587.5" text-anchor="middle">57</text>
<text x="749.8" y="587.5" text-anchor="middle">3</text>
<text x="860.0" y="335.0" text-anchor="middle">52</text>
<text x="862.5" y="370.5" text-anchor="middle">51</text>
<text x="912.0" y="381.0" text-anchor="middle">57</text>
<text x="1136.8" y="362.0" text-anchor="middle">28</text>
<text x="1131.8" y="436.0" text-anchor="middle">27</text>
<text x="929.2" y="459.0" text-anchor="middle">56</text>
<text x="912.5" y="494.5" text-anchor="middle">3</text>
<text x="816.5" y="577.5" text-anchor="middle">2</text>
<text x="1055.5" y="489.0" text-anchor="middle">53</text>
<text x="1144.8" y="491.0" text-anchor="middle">22</text>
<text x="1143.8" y="520.0" text-anchor="middle">23</text>
<text x="1145.0" y="549.0" text-anchor="middle">24</text>
<text x="1147.0" y="577.5" text-anchor="middle">25</text>
<text x="1219.8" y="525.0" text-anchor="middle">26</text>
<text x="1395.8" y="571.0" text-anchor="middle">31</text>
<text x="289.0" y="649.0" text-anchor="middle">7</text>
<text x="372.5" y="679.5" text-anchor="middle">8</text>
<text x="373.2" y="717.5" text-anchor="middle">9</text>
<text x="320.0" y="747.5" text-anchor="middle">12</text>
<text x="378.5" y="780.5" text-anchor="middle">10</text>
<text x="380.8" y="819.5" text-anchor="middle">11</text>
<text x="565.8" y="679.0" text-anchor="middle">6</text>
<text x="598.5" y="875.5" text-anchor="middle">13</text>
<text x="850.0" y="619.5" text-anchor="middle">4</text>
<text x="1031.5" y="737.0" text-anchor="middle">53</text>
<text x="1087.5" y="746.0" text-anchor="middle">58</text>
<text x="1396.5" y="639.0" text-anchor="middle">32</text>
<text x="333.4" y="975.2" text-anchor="middle">56</text>
<text x="334.0" y="1024.4" text-anchor="middle">14</text>
<text x="488.7" y="1078.9" text-anchor="middle">15</text>
<text x="571.8" y="1078.9" text-anchor="middle">50</text>
<text x="646.0" y="1099.0" text-anchor="middle">54</text>
<text x="1483.8" y="101.0" text-anchor="middle">30</text>
<text x="1409.5" y="144.0" text-anchor="middle">29</text>
<text x="812.0" y="298.0" text-anchor="middle">16</text>
</g>
</svg>
</body></html>
